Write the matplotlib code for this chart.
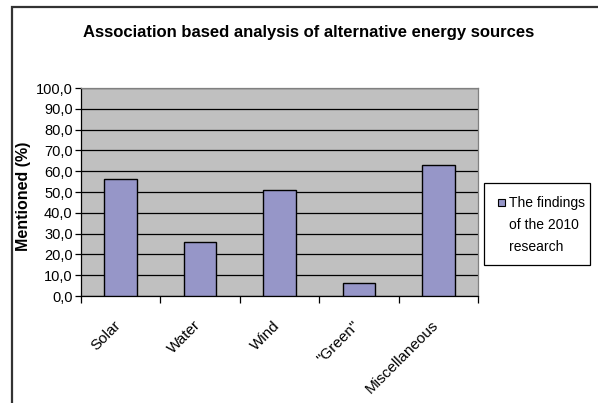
import matplotlib
matplotlib.use("Agg")
import matplotlib.pyplot as plt
from matplotlib.patches import Rectangle
from matplotlib.ticker import FuncFormatter
from matplotlib.transforms import ScaledTranslation

categories = ["Solar", "Water", "Wind", "\"Green\"", "Miscellaneous"]
values = [56.3, 26.1, 51.1, 6.3, 63.1]
yticks = [0, 10, 20, 30, 40, 50, 60, 70, 80, 90, 100]
series_name = "The findings\nof the 2010\nresearch"
title = "Association based analysis of alternative energy sources"
ylabel = "Mentioned (%)"

plt.rcParams['font.family'] = ['Liberation Sans', 'DejaVu Sans']

W, H = 598, 403
fig = plt.figure(figsize=(W / 100, H / 100), dpi=100)
fig.patch.set_facecolor('white')


def fx(px):
    return px / W


def fy(py):
    return 1 - py / H


# outer chart frame
fig.patches.append(Rectangle((fx(11.5), -0.1), 1.2, fy(7) + 0.1, transform=fig.transFigure,
                             fill=False, edgecolor='#333333', linewidth=1.6))

left, right, top, bottom = 81, 478, 88, 296
ax = fig.add_axes([fx(left), fy(bottom), (right - left) / W, (bottom - top) / H])
ax.set_facecolor('#C0C0C0')

bar_color = '#9696C8'
x = list(range(len(categories)))
ax.bar(x, values, width=0.41, color=bar_color, edgecolor='black', linewidth=1.0, zorder=3)

ax.set_xlim(-0.5, len(categories) - 0.5)
ax.set_ylim(0, 100)
ax.set_yticks(yticks)
ax.yaxis.set_major_formatter(FuncFormatter(lambda v, p: f"{v:.1f}".replace('.', ',')))
ax.grid(axis='y', color='black', linewidth=0.9, zorder=1)
ax.set_axisbelow(True)

ax.set_xticks([i - 0.5 for i in range(len(categories) + 1)], minor=False)
ax.set_xticklabels([])
ax.set_xticks(x, minor=True)
ax.tick_params(axis='x', which='minor', length=0, pad=16)
ax.tick_params(axis='x', which='major', length=5, width=0.9, direction='out')
ax.tick_params(axis='y', length=4, width=0.9, direction='out', labelsize=10.5, pad=2)
ax.set_xticklabels(categories, minor=True, rotation=45, ha='right', va='top',
                   rotation_mode='anchor', fontsize=11)
shift = ScaledTranslation(-7 / 100, 0, fig.dpi_scale_trans)
for lab in ax.get_xticklabels(minor=True):
    lab.set_transform(lab.get_transform() + shift)

for s in ['top', 'right']:
    ax.spines[s].set_color('#808080')
    ax.spines[s].set_linewidth(0.9)
for s in ['left', 'bottom']:
    ax.spines[s].set_color('black')
    ax.spines[s].set_linewidth(0.9)

fig.text(fx(309), fy(32), title, ha='center', va='center', fontsize=12, fontweight='bold')
fig.text(fx(24), fy(196), ylabel, ha='center', va='center', rotation=90,
         fontsize=11.5, fontweight='bold')

# legend box
fig.patches.append(Rectangle((fx(484), fy(265)), (590 - 484) / W, (265 - 183) / H,
                             transform=fig.transFigure, facecolor='white',
                             edgecolor='black', linewidth=0.9))
fig.patches.append(Rectangle((fx(498), fy(206)), 7 / W, 7 / H, transform=fig.transFigure,
                             facecolor=bar_color, edgecolor='black', linewidth=0.8))
fig.text(fx(509), fy(196), series_name, ha='left', va='top', fontsize=10,
         linespacing=1.75)

fig.savefig("out.png", dpi=100)
